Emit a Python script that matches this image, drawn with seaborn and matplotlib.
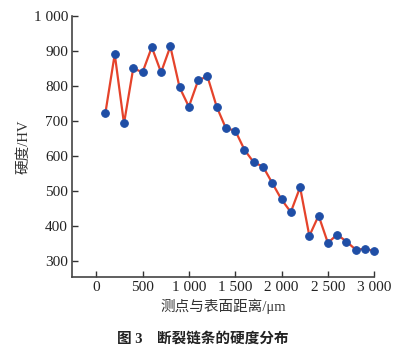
import numpy as np
import pandas as pd
import seaborn as sns
import matplotlib.pyplot as plt

# hardness profile
distance = [100, 200, 300, 400, 500, 600, 700, 800, 900, 1000,
            1100, 1200, 1300, 1400, 1500, 1600, 1700, 1800, 1900, 2000,
            2100, 2200, 2300, 2400, 2500, 2600, 2700, 2800, 2900, 3000]
hardness = [724, 891, 693, 851, 839, 911, 839, 913, 796, 741,
            816, 828, 741, 679, 673, 618, 582, 570, 523, 476,
            440, 511, 372, 430, 352, 376, 356, 333, 335, 329]
xticks = [0, 500, 1000, 1500, 2000, 2500, 3000]
yticks = [300, 400, 500, 600, 700, 800, 900, 1000]

sns.set_style("ticks")
plt.rcParams['font.family'] = ['Liberation Serif', 'Noto Sans CJK SC']
plt.rcParams['axes.unicode_minus'] = False

df = pd.DataFrame({"d": distance, "hv": hardness})

fig = plt.figure(figsize=(4.05, 3.55), dpi=100)
ax = fig.add_axes([0.178, 0.22, 0.746, 0.735])
sns.lineplot(data=df, x="d", y="hv", ax=ax, color="#e5432b", linewidth=1.6,
             marker="o", markersize=5.5, markerfacecolor="#1f4ea6",
             markeredgecolor="#1f4ea6", clip_on=False)

ax.set_xlim(-260, 3000)
ax.set_ylim(255, 1000)
ax.set_xticks(xticks)
ax.set_yticks(yticks)
fmt = lambda v: f"{v:,}".replace(",", " ")
ax.set_xticklabels([fmt(v) for v in xticks], fontsize=11)
ax.set_yticklabels([fmt(v) for v in yticks], fontsize=11)
ax.tick_params(direction="in", length=4, width=1, pad=3, colors="#333333", labelcolor="#222222")
for s in ["left", "bottom"]:
    ax.spines[s].set_color("#444444")
    ax.spines[s].set_linewidth(1.2)
sns.despine(ax=ax)

ax.set_xlabel("测点与表面距离/μm", fontsize=10.5, color="#333333", labelpad=3)
ax.set_ylabel("硬度/HV", fontsize=10.5, color="#333333", labelpad=2)

fig.text(0.5, 0.035, "图 3    断裂链条的硬度分布", ha="center", fontsize=10.5,
         fontweight="bold", color="#222222")

fig.savefig("out.png", dpi=100)
